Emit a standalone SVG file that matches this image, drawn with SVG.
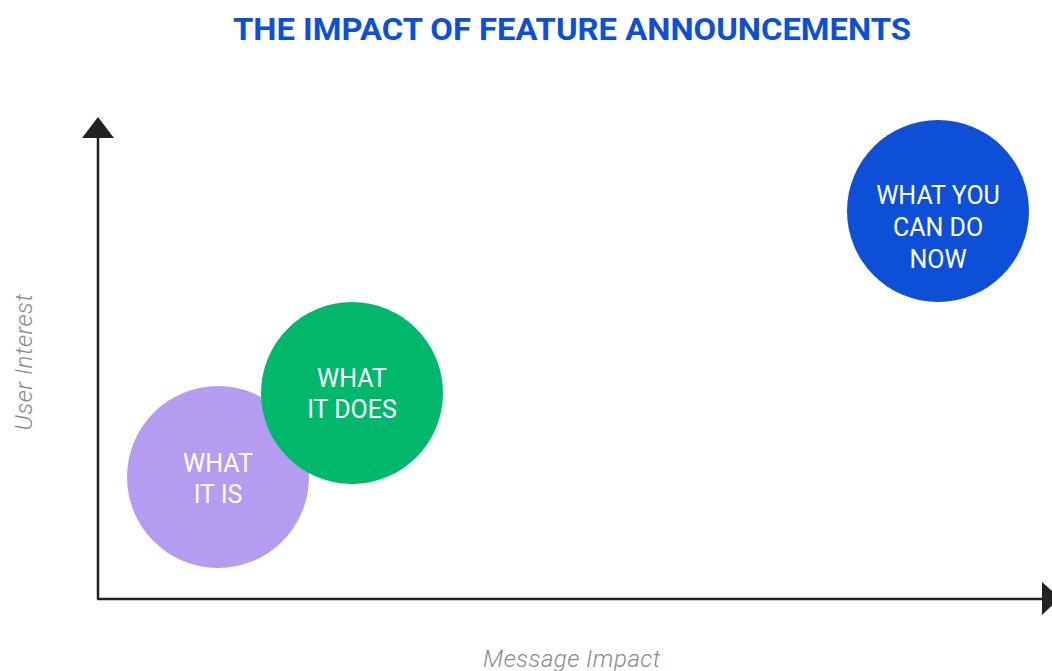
<svg xmlns="http://www.w3.org/2000/svg" width="1052" height="671" viewBox="0 0 1052 671">
<style>
.title{font-family:Roboto,"Liberation Sans",sans-serif;font-weight:bold;font-size:32px;fill:#0d4fd6}
.lbl{font-family:Roboto,"Liberation Sans",sans-serif;font-size:25px;font-weight:normal;fill:#ffffff;text-anchor:middle}
.ax{font-family:Roboto,"Liberation Sans",sans-serif;font-style:italic;font-weight:300;font-size:24px;fill:#8a8a8a;text-anchor:middle;letter-spacing:0.5px}
.axis{stroke:#222;stroke-width:2.5;fill:none}
</style>
<rect width="1052" height="671" fill="#ffffff"/>
<text class="title" x="233" y="40" textLength="678" lengthAdjust="spacingAndGlyphs">THE IMPACT OF FEATURE ANNOUNCEMENTS</text>
<g id="connectors">
<line class="axis" x1="98" y1="136" x2="98" y2="599"/>
<line class="axis" x1="97" y1="599" x2="1044" y2="599"/>
<polygon points="98,117 82,138 114,138" fill="#222"/>
<polygon points="1042,582 1042,615 1060,598" fill="#222"/>
</g>
<g id="node-what-it-is">
<circle cx="218" cy="477" r="91" fill="#b59cf0"/>
<text class="lbl" x="218" y="472">WHAT</text>
<text class="lbl" x="218" y="503">IT IS</text>
</g>
<g id="node-what-it-does">
<circle cx="352" cy="393" r="91" fill="#00b86b"/>
<text class="lbl" x="352" y="387">WHAT</text>
<text class="lbl" x="352" y="418">IT DOES</text>
</g>
<g id="node-what-you-can-do-now">
<circle cx="938" cy="211" r="91" fill="#0d4fd6"/>
<text class="lbl" x="938" y="204">WHAT YOU</text>
<text class="lbl" x="938" y="236">CAN DO</text>
<text class="lbl" x="938" y="268">NOW</text>
</g>
<text class="ax" transform="translate(32,362) rotate(-90)">User Interest</text>
<text class="ax" x="572" y="667">Message Impact</text>
</svg>
